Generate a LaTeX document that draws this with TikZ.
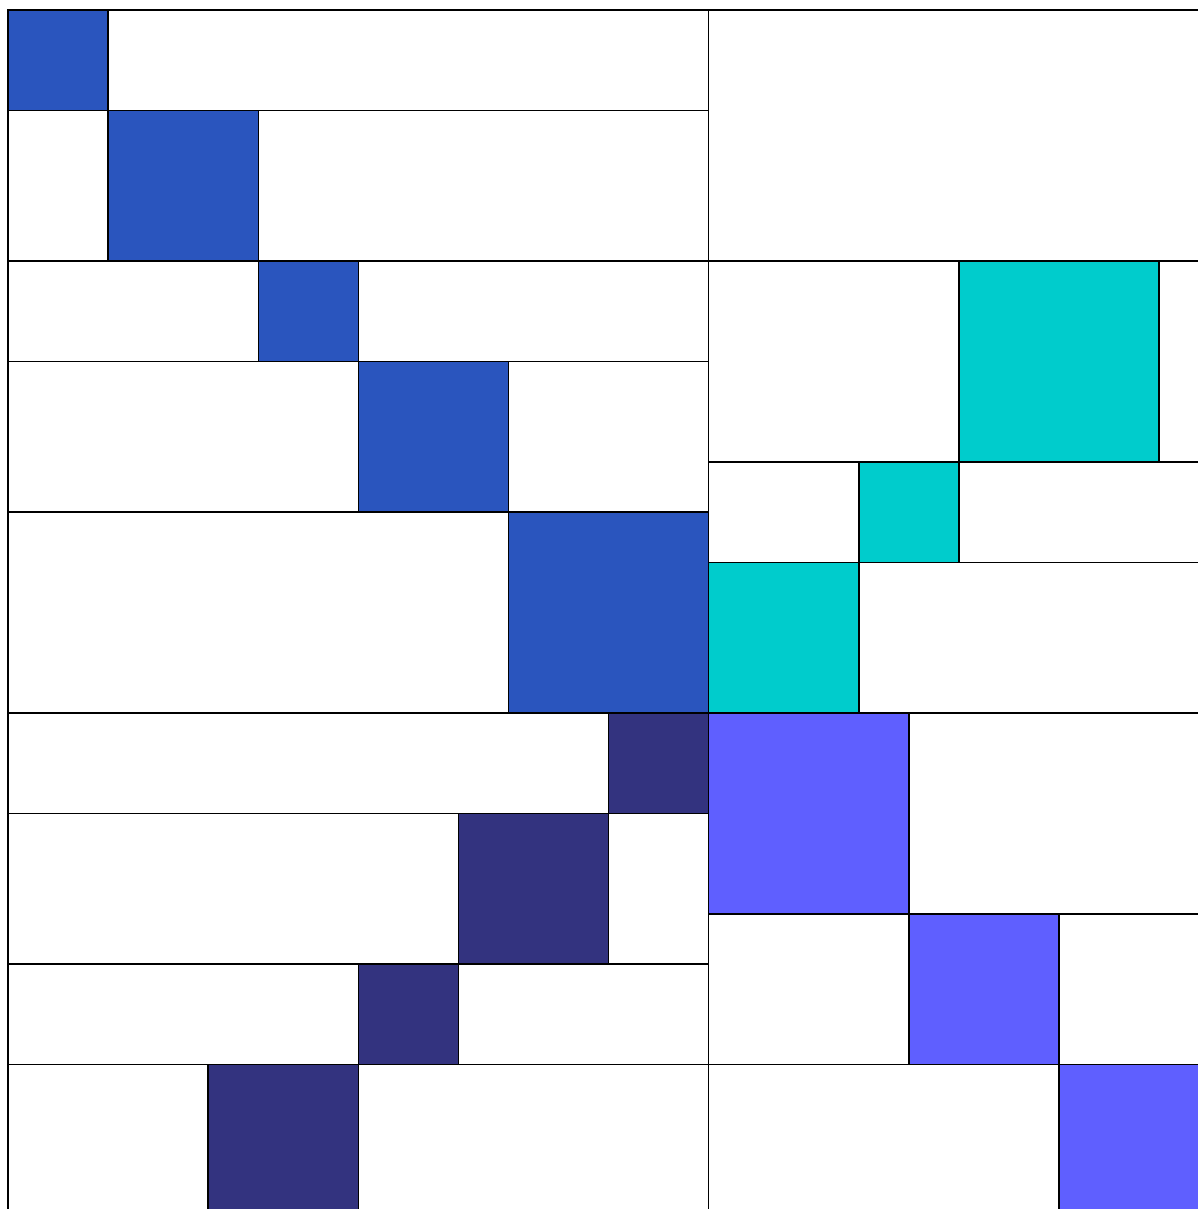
\documentclass[tikz,border=0pt]{standalone}
\definecolor{cblue}{HTML}{2A55BE}
\definecolor{cnavy}{HTML}{33337F}
\definecolor{ccyan}{HTML}{00CCCC}
\definecolor{cviolet}{HTML}{5F5FFF}
\tikzset{
  cell/.style={draw=black, line width=0.85pt, fill=white},
  bluecell/.style={cell, fill=cblue},
  navycell/.style={cell, fill=cnavy},
  cyancell/.style={cell, fill=ccyan},
  violetcell/.style={cell, fill=cviolet},
}
\begin{document}
\begin{tikzpicture}[xscale=1,yscale=-1.0034]
\path[use as bounding box] (-0.16,-0.199) rectangle (23.776,23.875);
\clip (-0.16,-0.199) rectangle (23.776,23.875);
\fill[white] (-0.16,-0.199) rectangle (23.776,23.875);
% left column
\draw[bluecell] (0,0) rectangle (2,2);
\draw[cell] (2,0) rectangle (14,2);
\draw[cell] (0,2) rectangle (2,5);
\draw[bluecell] (2,2) rectangle (5,5);
\draw[cell] (5,2) rectangle (14,5);
\draw[cell] (0,5) rectangle (5,7);
\draw[bluecell] (5,5) rectangle (7,7);
\draw[cell] (7,5) rectangle (14,7);
\draw[cell] (0,7) rectangle (7,10);
\draw[bluecell] (7,7) rectangle (10,10);
\draw[cell] (10,7) rectangle (14,10);
\draw[cell] (0,10) rectangle (10,14);
\draw[bluecell] (10,10) rectangle (14,14);
\draw[cell] (0,14) rectangle (12,16);
\draw[navycell] (12,14) rectangle (14,16);
\draw[cell] (0,16) rectangle (9,19);
\draw[navycell] (9,16) rectangle (12,19);
\draw[cell] (12,16) rectangle (14,19);
\draw[cell] (0,19) rectangle (7,21);
\draw[navycell] (7,19) rectangle (9,21);
\draw[cell] (9,19) rectangle (14,21);
\draw[cell] (0,21) rectangle (4,24);
\draw[navycell] (4,21) rectangle (7,24);
\draw[cell] (7,21) rectangle (14,24);
% right column
\draw[cell] (14,0) rectangle (25,5);
\draw[cell] (14,5) rectangle (19,9);
\draw[cyancell] (19,5) rectangle (23,9);
\draw[cell] (23,5) rectangle (25,9);
\draw[cell] (14,9) rectangle (17,11);
\draw[cyancell] (17,9) rectangle (19,11);
\draw[cell] (19,9) rectangle (25,11);
\draw[cyancell] (14,11) rectangle (17,14);
\draw[cell] (17,11) rectangle (25,14);
\draw[violetcell] (14,14) rectangle (18,18);
\draw[cell] (18,14) rectangle (25,18);
\draw[cell] (14,18) rectangle (18,21);
\draw[violetcell] (18,18) rectangle (21,21);
\draw[cell] (21,18) rectangle (25,21);
\draw[cell] (14,21) rectangle (21,25);
\draw[violetcell] (21,21) rectangle (25,25);
\end{tikzpicture}
\end{document}
